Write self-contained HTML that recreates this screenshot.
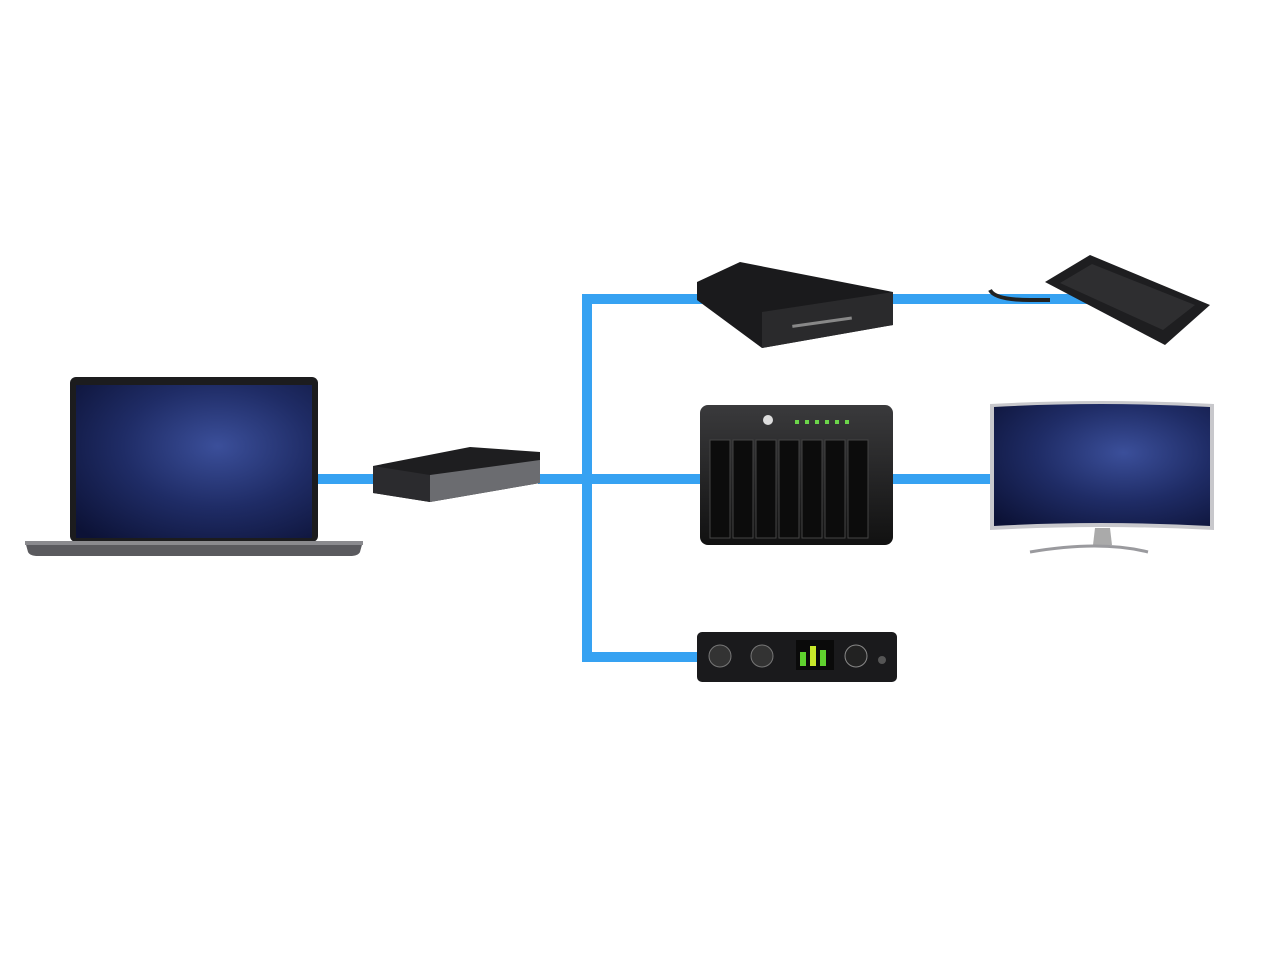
<!DOCTYPE html>
<html><head><meta charset="utf-8"><style>
html,body{margin:0;padding:0;background:#fff;width:1280px;height:960px;overflow:hidden}
</style></head><body>
<svg width="1280" height="960" viewBox="0 0 1280 960" xmlns="http://www.w3.org/2000/svg">
<defs>
<radialGradient id="sky" cx="0.6" cy="0.4" r="0.8">
<stop offset="0" stop-color="#3b4f9a"/><stop offset="0.5" stop-color="#1f2c66"/><stop offset="1" stop-color="#0c1236"/></radialGradient>
<linearGradient id="bl" x1="0" x2="1"><stop offset="0" stop-color="#2f9bf0"/><stop offset="1" stop-color="#3aa6f5"/></linearGradient>
<linearGradient id="blk" x1="0" y1="0" x2="0" y2="1"><stop offset="0" stop-color="#3a3a3c"/><stop offset="1" stop-color="#111"/></linearGradient>
</defs>
<!-- connectors -->
<g fill="#36a2f2">
<rect x="315" y="474" width="62" height="10"/>
<rect x="538" y="474" width="165" height="10"/>
<rect x="582" y="294" width="10" height="368"/>
<rect x="582" y="294" width="120" height="10"/>
<rect x="885" y="294" width="210" height="10"/>
<rect x="582" y="652" width="120" height="10"/>
<rect x="893" y="474" width="100" height="10"/>
</g>
<!-- laptop -->
<rect x="70" y="377" width="248" height="165" rx="6" fill="#1c1c1e"/>
<rect x="76" y="385" width="236" height="153" fill="url(#sky)"/>
<path d="M25 541 H363 L360 552 Q358 556 350 556 H38 Q30 556 28 552 Z" fill="#5a5a5e"/>
<rect x="25" y="541" width="338" height="4" fill="#8a8a8e"/>
<!-- dock -->
<path d="M373 466 L470 447 L540 452 L540 483 L430 502 L373 493 Z" fill="#1e1e20"/>
<path d="M430 475 L540 460 L540 483 L430 502 Z" fill="#6b6c70"/>
<path d="M373 466 L430 475 L430 502 L373 493 Z" fill="#2b2b2e"/>
<!-- top drive -->
<path d="M697 282 L740 262 L893 292 L893 325 L762 348 L697 300 Z" fill="#1a1a1c"/>
<path d="M762 312 L893 292 L893 325 L762 348 Z" fill="#2a2a2c"/>
<rect x="792" y="321" width="60" height="3" fill="#888" transform="rotate(-8 820 322)"/>
<!-- SSD -->
<path d="M990 290 Q995 300 1030 300 L1050 300" stroke="#222" stroke-width="4" fill="none"/>
<path d="M1045 282 L1090 255 L1210 305 L1165 345 Z" fill="#1e1e20"/>
<path d="M1060 283 L1092 264 L1195 305 L1163 330 Z" fill="#2e2e30"/>
<!-- RAID -->
<rect x="700" y="405" width="193" height="140" rx="8" fill="url(#blk)"/>
<g fill="#0c0c0c" stroke="#444" stroke-width="1">
<rect x="710" y="440" width="20" height="98"/><rect x="733" y="440" width="20" height="98"/>
<rect x="756" y="440" width="20" height="98"/><rect x="779" y="440" width="20" height="98"/>
<rect x="802" y="440" width="20" height="98"/><rect x="825" y="440" width="20" height="98"/>
<rect x="848" y="440" width="20" height="98"/>
</g>
<circle cx="768" cy="420" r="5" fill="#ddd"/>
<g fill="#6cd64a"><rect x="795" y="420" width="4" height="4"/><rect x="805" y="420" width="4" height="4"/><rect x="815" y="420" width="4" height="4"/><rect x="825" y="420" width="4" height="4"/><rect x="835" y="420" width="4" height="4"/><rect x="845" y="420" width="4" height="4"/></g>
<!-- monitor -->
<path d="M990 404 Q1100 398 1214 404 V530 Q1100 524 990 530 Z" fill="#c8c8cc"/>
<path d="M994 407 Q1100 401 1210 407 V526 Q1100 520 994 526 Z" fill="url(#sky)"/>
<path d="M1095 528 L1110 528 L1112 545 L1093 545 Z" fill="#aaa"/>
<path d="M1030 552 Q1100 540 1148 552" stroke="#9a9a9e" stroke-width="3" fill="none"/>
<!-- audio -->
<rect x="697" y="632" width="200" height="50" rx="5" fill="#1a1a1c"/>
<circle cx="720" cy="656" r="11" fill="#333" stroke="#777"/>
<circle cx="762" cy="656" r="11" fill="#333" stroke="#777"/>
<rect x="796" y="640" width="38" height="30" fill="#0a0a0a"/>
<rect x="800" y="652" width="6" height="14" fill="#5fd12e"/><rect x="810" y="646" width="6" height="20" fill="#c7e82a"/><rect x="820" y="650" width="6" height="16" fill="#5fd12e"/>
<circle cx="856" cy="656" r="11" fill="#222" stroke="#888"/>
<circle cx="882" cy="660" r="4" fill="#555"/>
</svg>
</body></html>
